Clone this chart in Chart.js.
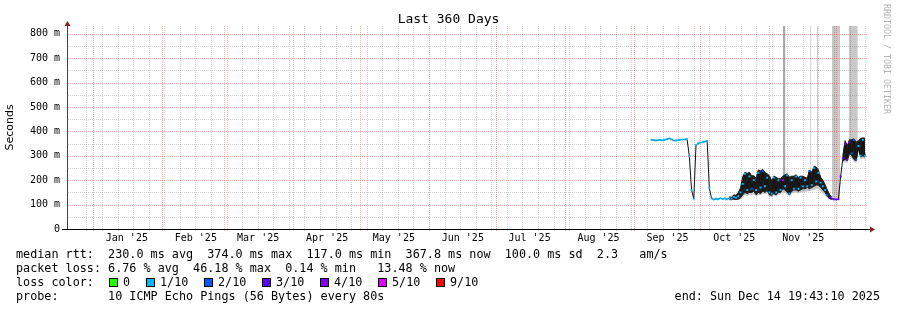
<!DOCTYPE html>
<html><head><meta charset="utf-8">
<script src="https://cdn.jsdelivr.net/npm/chart.js@4/dist/chart.umd.min.js"></script>
<style>
html,body{margin:0;padding:0;background:#fff;}
#wrap{position:relative;width:897px;height:310px;overflow:hidden;background:#fff;}
canvas{position:absolute;left:0;top:0;}
.t{position:absolute;font-family:"DejaVu Sans Mono",monospace;white-space:pre;color:#000;}
.leg{font-size:11.78px;line-height:14px;}
.box{position:absolute;width:7px;height:7px;border:1px solid #000;}
</style></head><body>
<div id="wrap">
<canvas id="c" width="897" height="310"></canvas>
<div class="t" style="left:0;width:897px;top:11px;text-align:center;font-size:13px;line-height:16px;">Last 360 Days</div>
<div class="t" style="left:882px;top:4px;writing-mode:vertical-rl;font-size:8.3px;line-height:10px;color:#b4b4b4;">RRDTOOL / TOBI OETIKER</div>
<div class="t leg" style="left:16px;top:247px;">median rtt:  230.0 ms avg  374.0 ms max  117.0 ms min  367.8 ms now  100.0 ms sd  2.3   am/s</div>
<div class="t leg" style="left:16px;top:261px;">packet loss: 6.76 % avg  46.18 % max  0.14 % min   13.48 % now</div>
<div class="t leg" style="left:16px;top:275px;">loss color:</div>
<div id="losslegend"></div>
<div class="t leg" style="left:16px;top:289px;">probe:       10 ICMP Echo Pings (56 Bytes) every 80s</div>
<div class="t leg" style="right:17px;top:289px;text-align:right;">end: Sun Dec 14 19:43:10 2025</div>
</div>
<script>
// ---- data (x = days since 1 Jan 2025) ----
const days = [251,252,253,254,255,256,257,258,259,260,
261,262,263,264,265,266,267,268,269,270,
271,272,273,274,275,276,277,278,279,280,
281,282,283,284,285,286,287,288,289,290,
291,292,293,294,295,296,297,298,299,300,
301,302,303,304,305,306,307,308,309,310,
311,312,313,314,315,316,317,318,319,320,
321,322,323,324,325,326,327,328,329,330,
331,332,333,334,335,336,337,338,339,340,
341,342,343,344,345,346,347];
const median = [366,364,363,364,365,363,366,368,371,367,
363,363,364,366,367,367,368,298,160,124,
344,351,354,356,358,361,167,125,121,124,
122,126,123,125,122,127,124,131,128,135,
150,185,226,160,215,165,200,160,230,170,
236,175,210,150,145,210,150,200,160,200,
175,220,145,200,165,215,165,210,175,200,
175,238,180,250,195,230,190,175,160,140,
128,124,122,121,122,215,290,350,285,355,
310,365,285,340,300,365,300];
const lossBucket = [1,1,1,1,1,1,1,1,1,1,
1,1,1,1,1,1,1,1,1,1,
1,1,1,1,1,1,1,1,1,1,
1,1,1,1,1,1,1,1,1,1,
1,1,1,1,1,2,1,1,1,1,
2,1,1,1,1,1,1,1,1,5,
1,1,1,1,1,1,1,1,1,1,
1,2,1,1,1,1,1,1,1,2,
3,3,3,3,3,3,4,4,4,4,
2,2,2,1,1,1,1];
const N = null;
const smokeLo = [N,N,N,N,N,N,N,N,N,N,
N,N,N,N,N,N,N,N,N,N,
N,N,N,N,N,N,N,N,N,N,
N,N,N,N,N,120,120,122,121,122,
128,140,150,145,150,150,155,140,150,145,
155,150,158,140,138,145,140,150,150,165,
160,150,140,155,160,160,155,160,165,165,
170,165,170,175,180,180,170,160,150,135,
125,122,N,N,N,N,280,285,280,310,
300,285,280,330,295,300,295];
const smokeHi = [N,N,N,N,N,N,N,N,N,N,
N,N,N,N,N,N,N,N,N,N,
N,N,N,N,N,N,N,N,N,N,
N,N,N,N,N,132,130,140,138,150,
168,215,232,228,232,218,218,208,242,238,
244,232,226,218,198,216,212,206,206,216,
222,226,212,216,216,222,212,216,216,212,
208,242,232,256,254,242,212,200,182,160,
142,130,N,N,N,N,300,362,342,366,
366,370,356,362,371,373,372];
const haloLo = [N,N,N,N,N,N,N,N,N,N,
N,N,N,N,N,N,N,N,N,N,
N,N,N,N,N,N,N,N,N,N,
N,N,N,N,N,N,N,N,N,118,
122,130,138,135,140,140,142,132,140,138,
145,142,148,132,130,138,132,140,142,150,
148,140,132,145,148,150,145,150,152,152,
155,155,158,160,165,165,155,145,138,128,
120,118,N,N,N,N,270,275,270,300,
290,275,270,318,285,290,288];
const haloHi = [N,N,N,N,N,N,N,N,N,N,
N,N,N,N,N,N,N,N,N,N,
N,N,N,N,N,N,N,N,N,N,
N,N,N,N,N,N,N,N,N,152,
170,218,235,231,235,221,221,211,245,241,
247,235,229,221,201,219,215,209,209,219,
225,229,215,219,219,225,215,219,219,215,
211,245,235,259,257,245,215,203,186,165,
146,133,N,N,N,N,303,366,346,370,
370,373,360,366,375,376,375];
const outageStart = [310.1, 322.3, 325.4, 332.1, 339.6];
const outageEnd   = [311.2, 322.75, 325.85, 335.7, 343.7];
const outageFloor = [205, 175, 195, 124, 345];
const monthStarts = [0,31,59,90,120,151,181,212,243,273,304,334];
const monthLabels = ["Jan '25","Feb '25","Mar '25","Apr '25","May '25","Jun '25","Jul '25","Aug '25","Sep '25","Oct '25","Nov '25"];
const yTicks = [0,50,100,150,200,250,300,350,400,450,500,550,600,650,700,750,800];
const lossLabels = ['0','1/10','2/10','3/10','4/10','5/10','9/10'];

// ---- styles / layout ----
const lossColors = ['#26ff00','#00b8ff','#0059ff','#5e00ff','#7e00ff','#dd00ff','#ff0000'];
const outageShade = ['#a8a8a8','#c8c8c8','#c8c8c8','#c8c8c8','#c8c8c8'];
const X_MIN = -11.7, X_MAX = 348.3, Y_MAX = 832;
const RED = 'rgba(235,40,40,0.36)', GRAY = 'rgba(0,0,0,0.17)';
const weekLines = [];
for (let d = -3; d <= X_MAX; d += 7) weekLines.push(d);

// loss legend
const lossBoxX = [109,146,204,262,320,378,436];
const ll = document.getElementById('losslegend');
lossLabels.forEach((lab,i)=>{
  const b = document.createElement('div'); b.className='box';
  b.style.left = lossBoxX[i]+'px'; b.style.top='278px'; b.style.background = lossColors[i];
  ll.appendChild(b);
  const t = document.createElement('div'); t.className='t leg';
  t.style.left = (lossBoxX[i]+14)+'px'; t.style.top='275px'; t.textContent = lab;
  ll.appendChild(t);
});

const pts = arr => days.map((d,i)=>({x:d, y:arr[i]}));
const datasets = [];
outageStart.forEach((s,i)=>{
  datasets.push({type:'line', data:[{x:s,y:outageFloor[i]},{x:outageEnd[i],y:outageFloor[i]}],
    fill:'end', backgroundColor:outageShade[i], borderWidth:0, pointRadius:0, order:20, isOutage:true});
});
datasets.push({data:pts(haloHi), fill:'+1', backgroundColor:'#c4c4c4', borderColor:'#c4c4c4', borderWidth:0, pointRadius:0, order:15});
datasets.push({data:pts(haloLo), fill:false, borderWidth:0, pointRadius:0, order:15});
datasets.push({data:pts(smokeHi), fill:'+1', backgroundColor:'#1e1e1e', borderColor:'#1e1e1e', borderWidth:1, pointRadius:0, order:10});
datasets.push({data:pts(smokeLo), fill:false, borderColor:'#1e1e1e', borderWidth:1, pointRadius:0, order:10});
datasets.push({data:pts(median), fill:false, borderColor:'#111', borderWidth:1, pointRadius:0, order:5});
datasets.push({data:pts(median), showLine:false, pointStyle:'rect', pointRadius:1.35, pointBorderWidth:0,
  pointBackgroundColor: lossBucket.map(b=>lossColors[b]), order:1});

function drawGrid(chart){
  const {ctx, chartArea:a, scales:{x,y}} = chart;
  ctx.save();
  ctx.lineWidth = 1; ctx.setLineDash([1,1]);
  yTicks.forEach(v=>{
    if (v===0) return;
    const py = Math.round(y.getPixelForValue(v))+0.5;
    ctx.strokeStyle = v%100===0 ? RED : GRAY;
    ctx.beginPath(); ctx.moveTo(a.left+1, py); ctx.lineTo(a.right, py); ctx.stroke();
  });
  const vline = (v,col)=>{
    const px = Math.round(x.getPixelForValue(v))+0.5;
    if (px < a.left+1 || px > a.right) return;
    ctx.strokeStyle = col;
    ctx.beginPath(); ctx.moveTo(px, a.top); ctx.lineTo(px, a.bottom+3); ctx.stroke();
  };
  weekLines.forEach(v=>{ if (!monthStarts.includes(v)) vline(v, GRAY); });
  monthStarts.forEach(v=>vline(v, RED));
  ctx.restore();
}
let outagesDrawn = 0;
const plug = {
  id:'rrd',
  beforeDatasetsDraw(){ outagesDrawn = 0; },
  afterDatasetDraw(chart, args){
    if (chart.data.datasets[args.index].isOutage){
      outagesDrawn++;
      if (outagesDrawn === outageStart.length) drawGrid(chart);
    }
  },
  afterDatasetsDraw(chart){
    const {ctx, chartArea:a} = chart;
    ctx.save();
    ctx.setLineDash([]);
    ctx.strokeStyle = '#444'; ctx.lineWidth = 1;
    ctx.beginPath(); ctx.moveTo(a.left+0.5, a.top-3); ctx.lineTo(a.left+0.5, a.bottom); ctx.stroke();
    ctx.strokeStyle = '#000';
    ctx.beginPath(); ctx.moveTo(a.left-5, a.bottom+0.5); ctx.lineTo(a.right+2, a.bottom+0.5); ctx.stroke();
    ctx.fillStyle = '#8b2020';
    ctx.beginPath(); ctx.moveTo(a.left+0.5, a.top-5); ctx.lineTo(a.left-2.5, a.top); ctx.lineTo(a.left+3.5, a.top); ctx.closePath(); ctx.fill();
    ctx.beginPath(); ctx.moveTo(a.right+7, a.bottom+0.5); ctx.lineTo(a.right+2, a.bottom-2.5); ctx.lineTo(a.right+2, a.bottom+3.5); ctx.closePath(); ctx.fill();
    ctx.restore();
  }
};

new Chart(document.getElementById('c'), {
  type:'line',
  data:{datasets},
  options:{
    responsive:false, animation:false, devicePixelRatio:1,
    layout:{padding:{left:0, top:26, right:29, bottom:61}},
    plugins:{legend:{display:false}, tooltip:{enabled:false}, title:{display:false}},
    elements:{line:{tension:0}},
    scales:{
      x:{type:'linear', min:X_MIN, max:X_MAX,
        grid:{display:false, drawTicks:false, tickLength:0}, border:{display:false},
        afterBuildTicks: ax => { ax.ticks = monthLabels.map((l,i)=>({value: monthStarts[i]+15.2})); },
        ticks:{autoSkip:false, maxRotation:0, minRotation:0, padding:3, color:'#000',
          font:{family:'DejaVu Sans Mono', size:10}, callback:(v,i)=>monthLabels[i]},
        afterFit: ax => { ax.height = 20; }
      },
      y:{type:'linear', min:0, max:Y_MAX,
        grid:{display:false, drawTicks:false, tickLength:0}, border:{display:false},
        afterBuildTicks: ax => { ax.ticks = yTicks.filter(v=>v%100===0).map(v=>({value:v})); },
        ticks:{padding:7, color:'#000', font:{family:'DejaVu Sans Mono', size:10},
          callback: v => v===0 ? '0' : v+' m'},
        title:{display:true, text:'Seconds', color:'#000', font:{family:'DejaVu Sans', size:11}, padding:{top:4,bottom:0}},
        afterFit: ax => { ax.width = 67; }
      }
    }
  },
  plugins:[plug]
});
</script>
</body></html>
